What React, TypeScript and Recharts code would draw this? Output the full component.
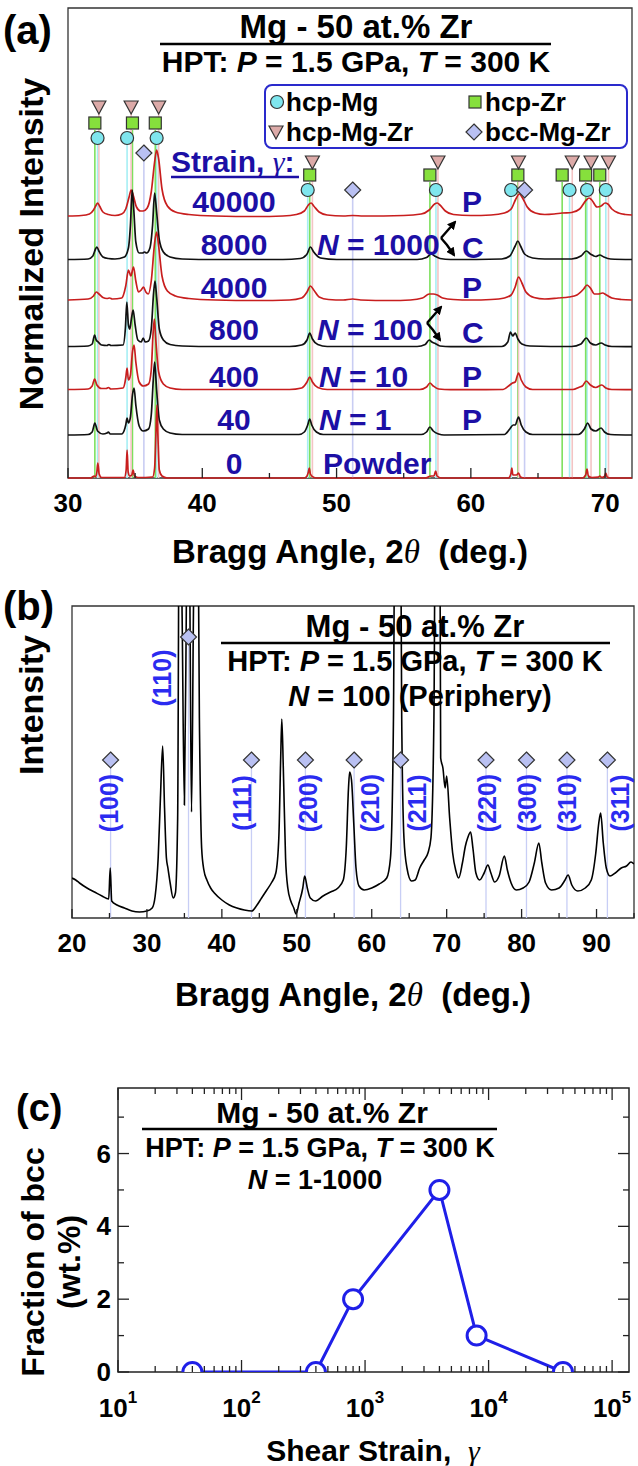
import React from 'react';
import {
  ComposedChart,
  Line,
  Scatter,
  XAxis,
  YAxis,
  ReferenceLine,
  ReferenceArea,
} from 'recharts';

type Pt = [number, number];

const SANS = '"Liberation Sans", Arial, Helvetica, sans-serif';
const SERIF = '"Liberation Serif", "DejaVu Serif", serif';
const NAVY = '#1c0fa5';
const BRIGHT = '#2b2bf0';

// ---------- panel (a): stacked XRD patterns ----------
const strainLabels = ['40000', '8000', '4000', '800', '400', '40', '0'];
const traceOffsets = [261, 218, 177, 131, 88, 43, 0];

const t40000: Pt[] = [
  [30, 1], [31, 1.5], [31.6, 3], [31.9, 7], [32.1, 12], [32.2, 14], [32.35, 11], [32.6, 5], [33, 2.5], [33.5, 1.5],
  [34, 3], [34.3, 8], [34.55, 20], [34.7, 27], [34.85, 22], [35.1, 10], [35.4, 6], [35.6, 6], [35.9, 9], [36.2, 25],
  [36.45, 55], [36.6, 67], [36.75, 58], [37, 28], [37.4, 11], [38, 5], [39, 2.5], [41, 1], [44, 0.5], [46, 1],
  [47, 2.5], [47.6, 6], [47.9, 12], [48.1, 14], [48.3, 11], [48.7, 5], [49.3, 2], [50.5, 1], [51.2, 1.5], [52, 1],
  [55, 1.5], [56.3, 3], [56.9, 7], [57.3, 13], [57.5, 14], [57.7, 12], [58.1, 6], [58.7, 2.5], [60, 1.5], [61.5, 2],
  [62.5, 4], [63, 8], [63.35, 18], [63.6, 23], [63.85, 19], [64.2, 10], [64.8, 4], [65.5, 2.5], [66.2, 3], [66.8, 4],
  [67.5, 4.5], [68.1, 8], [68.6, 17], [68.8, 19], [69, 17], [69.4, 10], [69.7, 11], [70, 14], [70.2, 13], [70.5, 8],
  [71, 4], [71.5, 2.5], [72, 2],
];
const t8000: Pt[] = [
  [30, 0.5], [31.5, 1], [31.85, 4], [32.05, 11], [32.15, 13], [32.3, 9], [32.6, 3], [33, 1.5], [33.5, 1], [34.2, 3],
  [34.5, 12], [34.65, 35], [34.78, 70], [34.9, 50], [35.05, 18], [35.3, 7], [35.55, 7], [35.7, 8], [35.85, 7], [36.1, 12],
  [36.3, 35], [36.45, 67], [36.6, 48], [36.8, 20], [37.1, 8], [37.6, 3], [38.5, 1], [41, 0.5], [46, 0.5], [47.3, 1.5],
  [47.8, 6], [48.05, 13], [48.3, 8], [48.8, 2], [50, 0.5], [56, 0.5], [56.7, 2.5], [57.05, 6], [57.3, 4], [57.7, 1.5],
  [58.5, 0.5], [62.3, 1], [62.9, 4], [63.3, 14], [63.5, 19], [63.7, 14], [64, 6], [64.6, 2], [65.5, 1], [67.5, 1],
  [68.2, 4], [68.6, 9], [68.9, 6], [69.3, 3.5], [69.6, 5], [69.9, 3], [70.4, 1], [72, 0.5],
];
const t4000: Pt[] = [
  [30, 1], [31.5, 2], [31.9, 5], [32.1, 9], [32.3, 7], [32.6, 3.5], [32.9, 2.5], [33.1, 3], [33.3, 2], [34, 3],
  [34.3, 15], [34.5, 31], [34.68, 25], [34.88, 34], [35.05, 20], [35.25, 9], [35.45, 11], [35.62, 14], [35.8, 9], [35.98, 7],
  [36.2, 20], [36.45, 58], [36.6, 69], [36.75, 55], [37, 25], [37.4, 10], [38, 5], [39, 2.5], [41, 1], [44, 0.5],
  [46.5, 1], [47.4, 3], [47.8, 9], [48.05, 15], [48.3, 11], [48.7, 4], [49.4, 1.5], [50.5, 1], [51.2, 2], [51.8, 1],
  [54, 0.5], [55.5, 1], [56.4, 3], [56.9, 7], [57.2, 7], [57.5, 6], [57.9, 3], [58.7, 1.5], [60, 1], [61.5, 1.5],
  [62.5, 3], [63, 6], [63.3, 14], [63.55, 24], [63.8, 18], [64.1, 9], [64.7, 3.5], [65.5, 2], [66.5, 3], [67.3, 4],
  [67.9, 6], [68.4, 12], [68.65, 16], [68.9, 13], [69.2, 7], [69.5, 7], [69.8, 8], [70.1, 6], [70.5, 3], [71.2, 1.5],
  [72, 1],
];
const t800: Pt[] = [
  [30, 0.5], [31.5, 1], [31.8, 3], [31.98, 12], [32.1, 7], [32.25, 5], [32.5, 2], [32.9, 1.5], [33.05, 2.5], [33.2, 1.5],
  [34.1, 2], [34.28, 20], [34.38, 45], [34.5, 22], [34.6, 18], [34.72, 28], [34.85, 37], [35, 22], [35.2, 7], [35.45, 5],
  [35.6, 9], [35.75, 5], [36, 6], [36.2, 18], [36.38, 55], [36.48, 66], [36.6, 50], [36.8, 18], [37.1, 7], [37.6, 2.5],
  [38.5, 1], [41, 0.5], [46.5, 0.5], [47.4, 2], [47.8, 7], [48, 14], [48.2, 8], [48.6, 2.5], [49.3, 0.5], [56, 0.5],
  [56.6, 2.5], [56.9, 7], [57.1, 5], [57.35, 3.5], [57.7, 1], [58.5, 0.3], [62.3, 0.5], [62.75, 5], [62.95, 15], [63.12, 11],
  [63.3, 14], [63.5, 8], [63.8, 3], [64.4, 1], [67.5, 0.5], [68.2, 3], [68.6, 9], [68.9, 4], [69.3, 2], [69.7, 4],
  [70, 2], [70.5, 0.5], [72, 0.3],
];
const t400: Pt[] = [
  [30, 0.5], [31.5, 1], [31.8, 4], [31.98, 11], [32.15, 5], [32.5, 1.5], [32.85, 1.5], [33, 2.5], [33.2, 1], [34.1, 2],
  [34.3, 12], [34.4, 22], [34.5, 10], [34.65, 15], [34.8, 38], [34.92, 45], [35.05, 28], [35.3, 8], [35.6, 4], [36, 6],
  [36.2, 20], [36.33, 55], [36.43, 71], [36.55, 48], [36.75, 18], [37.1, 6], [37.6, 2], [38.5, 0.5], [46.5, 0.5], [47.4, 2],
  [47.8, 8], [48, 13], [48.2, 8], [48.6, 2.5], [49.3, 0.5], [56.2, 0.5], [56.7, 3], [56.95, 7], [57.2, 4], [57.6, 1],
  [58.5, 0.3], [62.4, 0.5], [62.9, 5], [63.1, 7], [63.3, 8], [63.55, 17], [63.75, 10], [64.1, 3], [64.6, 0.5], [67.6, 0.5],
  [68.1, 3], [68.3, 4], [68.6, 9], [68.9, 5], [69.3, 2.5], [69.75, 5], [70.05, 2], [70.5, 0.5], [72, 0.3],
];
const t40: Pt[] = [
  [30, 0], [31.5, 0.5], [31.8, 3], [32, 12], [32.2, 4], [32.6, 1], [32.9, 2], [33, 3], [33.15, 1], [34, 1],
  [34.3, 10], [34.4, 17], [34.5, 12], [34.65, 18], [34.8, 40], [34.92, 47], [35.05, 30], [35.3, 9], [35.6, 4], [36, 6],
  [36.2, 20], [36.35, 55], [36.45, 73], [36.6, 45], [36.8, 15], [37.1, 6], [37.6, 2], [38.5, 0.5], [47.2, 0.5], [47.6, 3],
  [47.85, 10], [48, 16], [48.15, 10], [48.5, 3], [49, 0.5], [56.3, 0.5], [56.7, 3], [56.95, 8], [57.2, 4], [57.6, 1],
  [58, 0], [62.5, 0.5], [62.9, 6], [63.15, 10], [63.3, 10], [63.55, 18], [63.75, 10], [64.1, 3], [64.6, 0.5], [68, 0.5],
  [68.45, 6], [68.7, 12], [68.95, 6], [69.3, 4], [69.7, 7], [69.95, 3], [70.4, 0.5], [72, 0],
];
const t0: Pt[] = [
  [30, 0], [31.7, 0], [31.95, 2], [32.05, 1], [32.15, 6], [32.22, 15], [32.32, 4], [32.5, 0.5], [34.2, 0.5], [34.33, 8],
  [34.4, 28], [34.48, 6], [34.6, 2], [34.75, 3], [34.85, 8], [34.95, 2], [35.2, 0.5], [36.3, 1], [36.45, 10], [36.55, 45],
  [36.62, 73], [36.7, 40], [36.8, 8], [37, 2], [37.4, 0], [47.6, 0], [47.8, 2], [47.9, 6], [47.97, 10], [48.05, 4],
  [48.25, 1], [48.5, 0], [56.6, 0], [56.9, 1.5], [57.05, 2], [57.25, 2], [57.38, 7], [57.48, 2], [57.8, 0], [62.8, 0],
  [62.98, 4], [63.05, 10], [63.13, 3], [63.4, 3], [63.55, 5], [63.7, 1], [64, 0], [68.3, 0], [68.55, 3], [68.65, 9],
  [68.75, 2], [69, 0.5], [69.5, 1], [69.6, 2], [69.75, 0.5], [69.95, 1.5], [70.05, 5], [70.15, 1], [70.4, 0], [72, 0],
];
const tracesA = [t40000, t8000, t4000, t800, t400, t40, t0];
const traceColors = ['#c81e1e', '#111111', '#c81e1e', '#111111', '#c81e1e', '#111111', '#c81e1e'];

// reference peak positions (2θ, deg.)
const hcpMgPeaks = [32.2, 34.4, 36.6, 47.85, 57.4, 63.0, 67.35, 68.65, 70.05];
const hcpZrPeaks = [32.0, 34.8, 36.5, 48.0, 56.95, 63.5, 66.8, 68.55, 69.6];
const hcpMgZrPeaks = [32.3, 34.7, 36.75, 48.2, 57.55, 63.55, 67.55, 68.95, 70.25];
const bccPeaksA = [35.65, 51.2, 64.0];

const xTicksA = [30, 35, 40, 45, 50, 55, 60, 65, 70];
const xLabelsA = [30, 40, 50, 60, 70];

// ---------- panel (b): N = 100 periphery ----------
const patternB: Pt[] = [
  [20, 40], [20.5, 38], [21, 35], [22, 30], [23, 26], [24, 22], [24.9, 19], [25.1, 50], [25.3, 17], [26, 13],
  [27, 10], [28, 7], [29, 6], [30, 7], [30.7, 10], [31.1, 22], [31.5, 60], [31.8, 120], [32.1, 172], [32.35, 110],
  [32.6, 60], [32.8, 50], [33.1, 35], [33.5, 20], [33.8, 25], [34.1, 100], [34.35, 500], [34.7, 300], [35, 113], [35.3, 350],
  [35.55, 500], [35.75, 300], [35.95, 106], [36.2, 300], [36.6, 600], [37, 200], [37.3, 70], [37.6, 48], [38, 38], [38.5, 30],
  [39, 25], [40, 18], [41, 13], [42, 10], [43, 8], [44, 7], [44.6, 12], [45.3, 20], [46, 28], [46.6, 35],
  [47.2, 45], [47.6, 80], [47.85, 160], [48, 199], [48.2, 150], [48.5, 60], [48.8, 30], [49.2, 17], [49.6, 10], [49.9, 4],
  [50.3, 15], [50.8, 30], [51.05, 42], [51.4, 30], [51.8, 20], [52.5, 17], [53.5, 22], [54.5, 26], [55.5, 30], [56.2, 38],
  [56.6, 70], [56.9, 130], [57.05, 146], [57.3, 138], [57.6, 95], [57.9, 50], [58.3, 32], [59, 28], [60, 30], [61, 34],
  [62, 40], [62.5, 60], [62.9, 200], [63.2, 600], [63.7, 600], [64, 200], [64.3, 80], [64.7, 50], [65.3, 37], [65.8, 38],
  [66.4, 50], [67, 58], [67.5, 65], [67.9, 80], [68.3, 200], [68.6, 600], [69, 600], [69.2, 160], [69.5, 150], [69.8, 130],
  [70, 142], [70.4, 100], [70.8, 65], [71.2, 48], [71.6, 40], [72.1, 55], [72.5, 72], [72.8, 80], [73.2, 86], [73.5, 70],
  [73.9, 45], [74.4, 38], [75, 45], [75.5, 53], [75.9, 45], [76.4, 36], [77, 42], [77.7, 62], [78.1, 48], [78.6, 35],
  [79.3, 28], [80.2, 30], [81, 36], [81.7, 55], [82.3, 75], [82.7, 55], [83.2, 35], [84, 28], [85, 30], [85.8, 38],
  [86.2, 43], [86.7, 33], [87.5, 27], [88.5, 30], [89.3, 38], [89.9, 65], [90.3, 95], [90.55, 105], [90.9, 75], [91.3, 50],
  [91.8, 42], [92.5, 45], [93.3, 50], [94, 52], [94.6, 56], [95, 54],
];
const bccPeaksB = [25.15, 35.55, 43.95, 51.15, 57.65, 63.85, 75.25, 80.65, 86.05, 91.45];
const hklLabels = ['(100)', '(110)', '(111)', '(200)', '(210)', '(211)', '(220)', '(300)', '(310)', '(311)'];
const xTicksB = [20, 25, 30, 35, 40, 45, 50, 55, 60, 65, 70, 75, 80, 85, 90, 95];
const xLabelsB = [20, 30, 40, 50, 60, 70, 80, 90];

// ---------- panel (c): fraction of bcc vs shear strain ----------
const shearStrain = [40, 400, 800, 4000, 8000, 40000];
const bccFraction = [0, 0, 2, 5, 1, 0];
const decadesC = [10, 100, 1000, 10000, 100000];
const yTicksC = [0, 1, 2, 3, 4, 5, 6, 7];
const yLabelsC = [0, 2, 4, 6];

const minorC = decadesC.slice(0, 4).flatMap((d) => [2, 3, 4, 5, 6, 7, 8, 9].map((m) => m * d));
const xTicksC = [...decadesC, ...minorC].sort((a, b) => a - b);

// ---------- markers ----------
const mark = {
  mg: (cx: number, cy: number) => (
    <circle cx={cx} cy={cy} r={6.5} fill="#7fe6ee" stroke="#333" strokeWidth={1.2} />
  ),
  zr: (cx: number, cy: number) => (
    <rect x={cx - 6} y={cy - 6} width={12} height={12} fill="#86e03c" stroke="#333" strokeWidth={1.2} />
  ),
  mgzr: (cx: number, cy: number) => (
    <polygon
      points={`${cx - 7},${cy - 6} ${cx + 7},${cy - 6} ${cx},${cy + 7}`}
      fill="#dcaaa8"
      stroke="#333"
      strokeWidth={1.2}
    />
  ),
  bcc: (cx: number, cy: number) => (
    <polygon
      points={`${cx},${cy - 8} ${cx + 8},${cy} ${cx},${cy + 8} ${cx - 8},${cy}`}
      fill="#b9c0f2"
      stroke="#333"
      strokeWidth={1.2}
    />
  ),
};

const bottomTick = (majors: number[], size: number, dy: number, major = 10, minor = 5) => (p: any) => {
  const v = p.payload.value;
  const isMajor = majors.includes(v);
  return (
    <g>
      <line x1={p.x} x2={p.x} y1={p.y} y2={p.y - (isMajor ? major : minor)} stroke="#222" strokeWidth={1.3} />
      {isMajor && (
        <text x={p.x} y={p.y + dy} textAnchor="middle" fontFamily={SANS} fontWeight="bold" fontSize={size} fill="#000">
          {v}
        </text>
      )}
    </g>
  );
};

// rows (px above the axis) where the reference markers sit
const rowTop = { mg: 340, zr: 355, mgzr: 371, bcc: 325 };
const rowLow = { mg: 288, zr: 303, mgzr: 316, bcc: 288 };
const rowOf = (kind: keyof typeof rowTop, x: number) => (x < 40 ? rowTop[kind] : rowLow[kind]);

const refColors = { mg: '#a6eef4', zr: '#7ee05e', mgzr: '#f3c4c4', bcc: '#c9cdf3' };

function PanelA() {
  const phases: [keyof typeof rowTop, number[]][] = [
    ['mg', hcpMgPeaks],
    ['zr', hcpZrPeaks],
    ['mgzr', hcpMgZrPeaks],
    ['bcc', bccPeaksA],
  ];
  const series = tracesA.map((t, i) => t.map(([x, y]) => ({ x, y: y + traceOffsets[i] })));
  return (
    <ComposedChart width={638} height={580} margin={{ top: 8, right: 6, left: 68, bottom: 62 }}>
      <XAxis
        type="number"
        dataKey="x"
        domain={[30, 72]}
        ticks={xTicksA}
        interval={0}
        height={40}
        allowDataOverflow
        axisLine={false}
        tickLine={false}
        tickSize={0}
        tickMargin={0}
        tick={bottomTick(xLabelsA, 26, 34)}
      />
      <YAxis type="number" dataKey="y" domain={[0, 470]} hide />
      {phases.flatMap(([kind, peaks]) =>
        peaks.map((p) => (
          <ReferenceLine
            key={`${kind}-${p}`}
            segment={[{ x: p, y: rowOf(kind, p) - 7 }, { x: p, y: 0 }]}
            stroke={refColors[kind]}
            strokeWidth={1.6}
          />
        )),
      )}
      <ReferenceArea x1={30} x2={72} y1={0} y2={470} fill="none" stroke="#333" strokeWidth={1.3} ifOverflow="visible" />
      {series.map((d, i) => (
        <Line
          key={strainLabels[i]}
          data={d}
          dataKey="y"
          type="monotone"
          stroke={traceColors[i]}
          strokeWidth={1.7}
          dot={false}
          activeDot={false}
          isAnimationActive={false}
        />
      ))}
      {phases.map(([kind, peaks]) => (
        <Scatter
          key={kind}
          data={peaks.map((p) => ({ x: p, y: rowOf(kind, p) }))}
          dataKey="y"
          shape={(s: any) => mark[kind](s.cx, s.cy)}
          isAnimationActive={false}
        />
      ))}
    </ComposedChart>
  );
}

function PanelB() {
  const data = patternB.map(([x, y]) => ({ x, y }));
  return (
    <ComposedChart width={638} height={450} margin={{ top: 26, right: 4, left: 72, bottom: 72 }}>
      <XAxis
        type="number"
        dataKey="x"
        domain={[20, 95]}
        ticks={xTicksB}
        interval={0}
        height={40}
        allowDataOverflow
        axisLine={false}
        tickLine={false}
        tickSize={0}
        tickMargin={0}
        tick={bottomTick(xLabelsB, 26, 34, 9, 5)}
      />
      <YAxis type="number" dataKey="y" domain={[0, 312]} allowDataOverflow hide />
      {bccPeaksB.map((p, i) => (
        <ReferenceLine
          key={p}
          segment={[{ x: p, y: i === 1 ? 273 : 150 }, { x: p, y: 0 }]}
          stroke="#c8cef5"
          strokeWidth={1.3}
        />
      ))}
      <Line
        data={data}
        dataKey="y"
        type="monotone"
        stroke="#000"
        strokeWidth={1.6}
        dot={false}
        activeDot={false}
        isAnimationActive={false}
      />
      <ReferenceArea x1={20} x2={95} y1={0} y2={312} fill="none" stroke="#333" strokeWidth={1.3} ifOverflow="visible" />
      <Scatter
        data={bccPeaksB.map((p, i) => ({ x: p, y: i === 1 ? 281 : 158 }))}
        dataKey="y"
        shape={(s: any) => mark.bcc(s.cx, s.cy)}
        isAnimationActive={false}
      />
    </ComposedChart>
  );
}

function PanelC() {
  const data = shearStrain.map((x, i) => ({ x, y: bccFraction[i] }));
  const leftTick = (p: any) => {
    const v = p.payload.value;
    const major = yLabelsC.includes(v);
    return (
      <g>
        <line x1={p.x} x2={p.x + (major ? 11 : 6)} y1={p.y} y2={p.y} stroke="#222" strokeWidth={1.3} />
        {major && (
          <text x={p.x - 7} y={p.y + 9} textAnchor="end" fontFamily={SANS} fontWeight="bold" fontSize={26}>
            {v}
          </text>
        )}
      </g>
    );
  };
  const rightTick = (p: any) => {
    const major = yLabelsC.includes(p.payload.value);
    return <line x1={p.x} x2={p.x - (major ? 11 : 6)} y1={p.y} y2={p.y} stroke="#222" strokeWidth={1.3} />;
  };
  const xTick = (top: boolean) => (p: any) => {
    const v = p.payload.value;
    const major = decadesC.includes(v);
    const len = major ? 12 : 6;
    const exp = Math.round(Math.log10(v));
    return (
      <g>
        <line x1={p.x} x2={p.x} y1={p.y} y2={top ? p.y + len : p.y - len} stroke="#222" strokeWidth={1.3} />
        {!top && major && (
          <text x={p.x} y={p.y + 45} textAnchor="middle" fontFamily={SANS} fontWeight="bold" fontSize={26}>
            10
            <tspan fontSize={17} dy={-14}>
              {exp}
            </tspan>
          </text>
        )}
      </g>
    );
  };
  return (
    <ComposedChart width={638} height={436} margin={{ top: 56, right: 7, left: 68, bottom: 54 }}>
      <XAxis
        type="number"
        dataKey="x"
        scale="log"
        domain={[10, 137000]}
        ticks={xTicksC}
        interval={0}
        height={40}
        allowDataOverflow
        axisLine={false}
        tickLine={false}
        tickSize={0}
        tickMargin={0}
        tick={xTick(false)}
      />
      <XAxis
        xAxisId="top"
        orientation="top"
        type="number"
        dataKey="x"
        scale="log"
        domain={[10, 137000]}
        ticks={xTicksC}
        interval={0}
        height={2}
        allowDataOverflow
        axisLine={false}
        tickLine={false}
        tickSize={0}
        tickMargin={0}
        tick={xTick(true)}
      />
      <YAxis
        type="number"
        dataKey="y"
        domain={[0, 7.8]}
        ticks={yTicksC}
        interval={0}
        width={50}
        allowDataOverflow
        axisLine={false}
        tickLine={false}
        tickSize={0}
        tickMargin={0}
        tick={leftTick}
      />
      <YAxis
        yAxisId="right"
        orientation="right"
        type="number"
        dataKey="y"
        domain={[0, 7.8]}
        ticks={yTicksC}
        interval={0}
        width={2}
        allowDataOverflow
        axisLine={false}
        tickLine={false}
        tickSize={0}
        tickMargin={0}
        tick={rightTick}
      />
      <ReferenceArea x1={10} x2={137000} y1={0} y2={7.8} fill="none" stroke="#222" strokeWidth={1.5} ifOverflow="visible" />
      <Line
        xAxisId="top"
        yAxisId="right"
        data={data}
        dataKey="y"
        stroke="none"
        dot={false}
        activeDot={false}
        isAnimationActive={false}
      />
      <Line
        data={data}
        dataKey="y"
        type="linear"
        stroke="#1f1fe8"
        strokeWidth={3}
        dot={(d: any) => (
          <circle key={d.index} cx={d.cx} cy={d.cy} r={9.5} fill="#fff" stroke="#1f1fe8" strokeWidth={3} />
        )}
        activeDot={false}
        isAnimationActive={false}
      />
    </ComposedChart>
  );
}

function Bold(props: any) {
  const { children, ...rest } = props;
  return (
    <text fontFamily={SANS} fontWeight="bold" {...rest}>
      {children}
    </text>
  );
}

function Overlay() {
  const strainBase = [212, 255, 298, 340, 387, 430, 474];
  return (
    <svg width={638} height={1466} style={{ position: 'absolute', left: 0, top: 0, pointerEvents: 'none' }}>
      <defs>
        <marker id="ah" markerWidth={9} markerHeight={9} refX={7} refY={4.5} orient="auto" markerUnits="userSpaceOnUse">
          <path d="M0,0 L9,4.5 L0,9 z" fill="#000" />
        </marker>
      </defs>

      {/* ---- panel (a) ---- */}
      <Bold x={3} y={44} fontSize={40}>(a)</Bold>
      <Bold x={356} y={38} fontSize={33} textAnchor="middle">Mg - 50 at.% Zr</Bold>
      <line x1={160} x2={551} y1={44} y2={44} stroke="#000" strokeWidth={2.5} />
      <Bold x={356} y={72} fontSize={30} textAnchor="middle">
        HPT: <tspan fontStyle="italic">P</tspan> = 1.5 GPa, <tspan fontStyle="italic">T</tspan> = 300 K
      </Bold>
      <rect x={265} y={85} width={362} height={63} rx={7} fill="#fff" stroke="#2a2acc" strokeWidth={2} />
      {mark.mg(277, 102)}
      <Bold x={286} y={111} fontSize={26}>hcp-Mg</Bold>
      {mark.zr(475, 102)}
      <Bold x={485} y={111} fontSize={26}>hcp-Zr</Bold>
      {mark.mgzr(276, 132)}
      <Bold x={286} y={141} fontSize={26}>hcp-Mg-Zr</Bold>
      {mark.bcc(474, 132)}
      <Bold x={485} y={141} fontSize={26}>bcc-Mg-Zr</Bold>

      <Bold x={171} y={172} fontSize={30} fill={NAVY}>
        Strain, <tspan fontFamily={SERIF} fontStyle="italic" fontWeight="normal">γ</tspan>:
      </Bold>
      <line x1={171} x2={299} y1={177} y2={177} stroke={NAVY} strokeWidth={2.5} />
      {strainLabels.map((s, i) => (
        <Bold key={s} x={234} y={strainBase[i]} fontSize={30} textAnchor="middle" fill={NAVY}>
          {s}
        </Bold>
      ))}
      <Bold x={317} y={255} fontSize={30} fill={NAVY}><tspan fontStyle="italic">N</tspan> = 1000</Bold>
      <Bold x={317} y={340} fontSize={30} fill={NAVY}><tspan fontStyle="italic">N</tspan> = 100</Bold>
      <Bold x={319} y={387} fontSize={30} fill={NAVY}><tspan fontStyle="italic">N</tspan> = 10</Bold>
      <Bold x={319} y={430} fontSize={30} fill={NAVY}><tspan fontStyle="italic">N</tspan> = 1</Bold>
      <Bold x={323} y={474} fontSize={30} fill={NAVY}>Powder</Bold>
      {[212, 298, 387, 430].map((y) => (
        <Bold key={y} x={462} y={y} fontSize={30} fill={NAVY}>P</Bold>
      ))}
      {[258, 343].map((y) => (
        <Bold key={y} x={462} y={y} fontSize={30} fill={NAVY}>C</Bold>
      ))}
      <path d="M441,238 L455,222" stroke="#000" strokeWidth={2.4} fill="none" markerEnd="url(#ah)" />
      <path d="M441,238 L447,245 L454,255" stroke="#000" strokeWidth={2.4} fill="none" markerEnd="url(#ah)" />
      <path d="M427,323 L441,307" stroke="#000" strokeWidth={2.4} fill="none" markerEnd="url(#ah)" />
      <path d="M427,323 L433,330 L440,340" stroke="#000" strokeWidth={2.4} fill="none" markerEnd="url(#ah)" />

      <Bold transform="translate(43,244) rotate(-90)" fontSize={34} textAnchor="middle">Normalized Intensity</Bold>
      <Bold x={350} y={563} fontSize={33} textAnchor="middle">
        Bragg Angle, 2<tspan fontFamily={SERIF} fontStyle="italic" fontWeight="normal">θ</tspan>{'\u00a0\u00a0'}(deg.)
      </Bold>

      {/* ---- panel (b) ---- */}
      <Bold x={3} y={620} fontSize={40}>(b)</Bold>
      <Bold x={415} y={637} fontSize={31} textAnchor="middle">Mg - 50 at.% Zr</Bold>
      <line x1={221} x2={610} y1={643} y2={643} stroke="#000" strokeWidth={2.5} />
      <Bold x={415} y={671} fontSize={29} textAnchor="middle">
        HPT: <tspan fontStyle="italic">P</tspan> = 1.5 GPa, <tspan fontStyle="italic">T</tspan> = 300 K
      </Bold>
      <Bold x={420} y={706} fontSize={29} textAnchor="middle">
        <tspan fontStyle="italic">N</tspan> = 100 (Periphery)
      </Bold>
      <Bold transform="translate(43,705) rotate(-90)" fontSize={34} textAnchor="middle">Intensity</Bold>
      {hklLabels.map((h, i) => {
        const cx = [109, 162, 242, 308, 370, 417, 487, 527, 567, 620][i];
        const cy = i === 1 ? 678 : 803;
        return (
          <Bold key={h} transform={`translate(${cx + 9},${cy}) rotate(-90)`} fontSize={25} textAnchor="middle" fill={BRIGHT}>
            {h}
          </Bold>
        );
      })}
      <Bold x={353} y={1006} fontSize={33} textAnchor="middle">
        Bragg Angle, 2<tspan fontFamily={SERIF} fontStyle="italic" fontWeight="normal">θ</tspan>{'\u00a0\u00a0'}(deg.)
      </Bold>

      {/* ---- panel (c) ---- */}
      <Bold x={16} y={1121} fontSize={38}>(c)</Bold>
      <Bold x={322} y={1123} fontSize={30} textAnchor="middle">Mg - 50 at.% Zr</Bold>
      <line x1={142} x2={497} y1={1129} y2={1129} stroke="#000" strokeWidth={2.5} />
      <Bold x={320} y={1157} fontSize={27} textAnchor="middle">
        HPT: <tspan fontStyle="italic">P</tspan> = 1.5 GPa, <tspan fontStyle="italic">T</tspan> = 300 K
      </Bold>
      <Bold x={315} y={1189} fontSize={27} textAnchor="middle">
        <tspan fontStyle="italic">N</tspan> = 1-1000
      </Bold>
      <Bold transform="translate(44,1262) rotate(-90)" fontSize={32} textAnchor="middle">Fraction of bcc</Bold>
      <Bold transform="translate(80,1262) rotate(-90)" fontSize={32} textAnchor="middle">(wt.%)</Bold>
      <Bold x={373} y={1461} fontSize={30} textAnchor="middle">
        Shear Strain,{'\u00a0\u00a0'}<tspan fontFamily={SERIF} fontStyle="italic" fontWeight="normal">γ</tspan>
      </Bold>
    </svg>
  );
}

export default function App() {
  return (
    <div
      style={{
        position: 'absolute',
        left: 0,
        top: 0,
        width: 638,
        height: 1466,
        background: '#fff',
        overflow: 'hidden',
      }}
    >
      <div style={{ position: 'absolute', left: 0, top: 0 }}>
        <PanelA />
      </div>
      <div style={{ position: 'absolute', left: 0, top: 580 }}>
        <PanelB />
      </div>
      <div style={{ position: 'absolute', left: 0, top: 1030 }}>
        <PanelC />
      </div>
      <Overlay />
    </div>
  );
}
